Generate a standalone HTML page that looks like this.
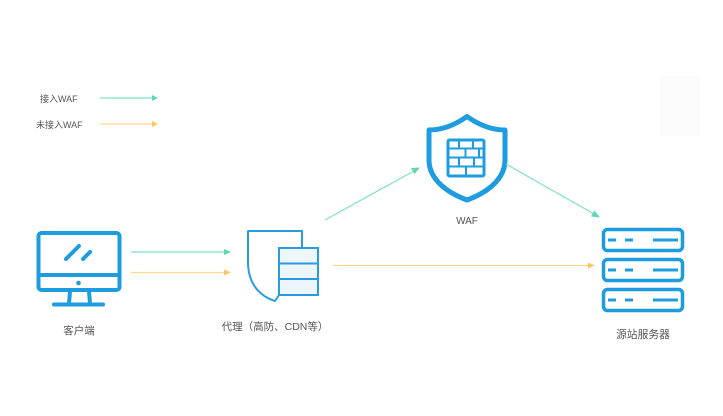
<!DOCTYPE html>
<html>
<head>
<meta charset="utf-8">
<style>
html,body{margin:0;padding:0;background:#fff;}
body{width:723px;height:416px;overflow:hidden;position:relative;}
svg{position:absolute;left:0;top:0;}
text{font-family:"Liberation Sans","Noto Sans CJK SC",sans-serif;fill:#555;}
</style>
</head>
<body>
<svg width="723" height="416" viewBox="0 0 723 416" xmlns="http://www.w3.org/2000/svg">
  <!-- faint background block top right -->
  <rect x="660" y="76" width="40" height="60" fill="#fcfcfc"/>

  <!-- legend -->
  <text x="40" y="102" font-size="9">接入WAF</text>
  <line x1="100" y1="98" x2="153" y2="98" stroke="#7fe0c6" stroke-width="1.2"/>
  <polygon points="158,98 152,95 152,101" fill="#5fd6b6"/>
  <text x="36" y="128" font-size="9">未接入WAF</text>
  <line x1="100" y1="124" x2="153" y2="124" stroke="#ffd68a" stroke-width="1.2"/>
  <polygon points="158,124 152,121 152,127" fill="#ffc560"/>

  <!-- client monitor -->
  <g stroke="#1d9ce0" stroke-width="4" fill="none" stroke-linecap="round" stroke-linejoin="round">
    <rect x="38.5" y="233" width="81" height="57" rx="3"/>
    <line x1="39" y1="275" x2="119" y2="275"/>
    <line x1="66" y1="259" x2="79" y2="246"/>
    <line x1="83" y1="259" x2="90" y2="252"/>
    <line x1="70" y1="291" x2="69" y2="304"/>
    <line x1="89" y1="291" x2="90" y2="304"/>
    <line x1="54" y1="304.5" x2="103" y2="304.5"/>
  </g>
  <circle cx="78.5" cy="283" r="2.3" fill="#1d9ce0"/>
  <text x="79" y="334" font-size="10.5" text-anchor="middle">客户端</text>

  <!-- client -> proxy arrows -->
  <line x1="131" y1="252" x2="225" y2="252" stroke="#7fe0c6" stroke-width="1.2"/>
  <polygon points="231,252 224,249 224,255" fill="#5fd6b6"/>
  <line x1="131" y1="272.5" x2="225" y2="272.5" stroke="#ffd68a" stroke-width="1.2"/>
  <polygon points="231,272.5 224,269.5 224,275.5" fill="#ffc560"/>

  <!-- proxy icon -->
  <path d="M302,248 L302,231 L248,231 L248,262 C248,286 262,297 275,301 L279,295" fill="none" stroke="#2b9be0" stroke-width="2" stroke-linejoin="round"/>
  <rect x="279" y="248" width="39" height="47" fill="#eef6fd" stroke="#2b9be0" stroke-width="2"/>
  <line x1="279" y1="263.5" x2="318" y2="263.5" stroke="#2b9be0" stroke-width="2"/>
  <line x1="279" y1="279" x2="318" y2="279" stroke="#2b9be0" stroke-width="2"/>
  <text x="275" y="330" font-size="10.5" text-anchor="middle">代理（高防、CDN等）</text>

  <!-- proxy -> WAF arrow -->
  <line x1="325" y1="220" x2="414" y2="171" stroke="#7fe0c6" stroke-width="1.2"/>
  <polygon points="420,167.5 411,168 414.5,174" fill="#5fd6b6"/>

  <!-- orange long arrow -->
  <line x1="333" y1="265.5" x2="588" y2="265.5" stroke="#ffd68a" stroke-width="1.2"/>
  <polygon points="595,265.5 588,262.5 588,268.5" fill="#ffc560"/>

  <!-- WAF shield -->
  <path d="M467,116.5 C455,125 442,130 429,130 L429,160 C429,180 448,193 467,200 C486,193 505,180 505,160 L505,130 C492,130 479,125 467,116.5 Z" fill="#fff" stroke="#1d9ce0" stroke-width="5" stroke-linejoin="round"/>
  <g stroke="#1d9ce0" fill="none">
    <rect x="448" y="140" width="36" height="36" rx="1.5" stroke-width="3"/>
    <g stroke-width="2">
      <line x1="448" y1="148.5" x2="484" y2="148.5"/>
      <line x1="448" y1="157.5" x2="484" y2="157.5"/>
      <line x1="448" y1="166.5" x2="484" y2="166.5"/>
      <line x1="459" y1="140" x2="459" y2="148.5"/>
      <line x1="473" y1="140" x2="473" y2="148.5"/>
      <line x1="465.5" y1="148.5" x2="465.5" y2="157.5"/>
      <line x1="479" y1="148.5" x2="479" y2="157.5"/>
      <line x1="459" y1="157.5" x2="459" y2="166.5"/>
      <line x1="474" y1="157.5" x2="474" y2="166.5"/>
      <line x1="466" y1="166.5" x2="466" y2="176"/>
    </g>
  </g>
  <text x="467" y="224" font-size="10" text-anchor="middle">WAF</text>

  <!-- WAF -> server arrow -->
  <line x1="506" y1="164" x2="594" y2="214" stroke="#7fe0c6" stroke-width="1.2"/>
  <polygon points="600,217.5 594.5,210.5 591,216.5" fill="#5fd6b6"/>

  <!-- server -->
  <g stroke="#1d9ce0" fill="none" stroke-width="3.5">
    <rect x="603.5" y="229.5" width="79" height="21" rx="4"/>
    <rect x="603.5" y="259.5" width="79" height="21" rx="4"/>
    <rect x="603.5" y="289.5" width="79" height="21" rx="4"/>
  </g>
  <g stroke="#1d9ce0" stroke-width="3">
    <line x1="608" y1="240" x2="616" y2="240"/>
    <line x1="625" y1="240" x2="633" y2="240"/>
    <line x1="653" y1="240" x2="678" y2="240"/>
    <line x1="608" y1="270" x2="616" y2="270"/>
    <line x1="625" y1="270" x2="633" y2="270"/>
    <line x1="653" y1="270" x2="678" y2="270"/>
    <line x1="608" y1="300" x2="616" y2="300"/>
    <line x1="625" y1="300" x2="633" y2="300"/>
    <line x1="653" y1="300" x2="678" y2="300"/>
  </g>
  <text x="643" y="338" font-size="10.8" text-anchor="middle">源站服务器</text>
</svg>
</body>
</html>
